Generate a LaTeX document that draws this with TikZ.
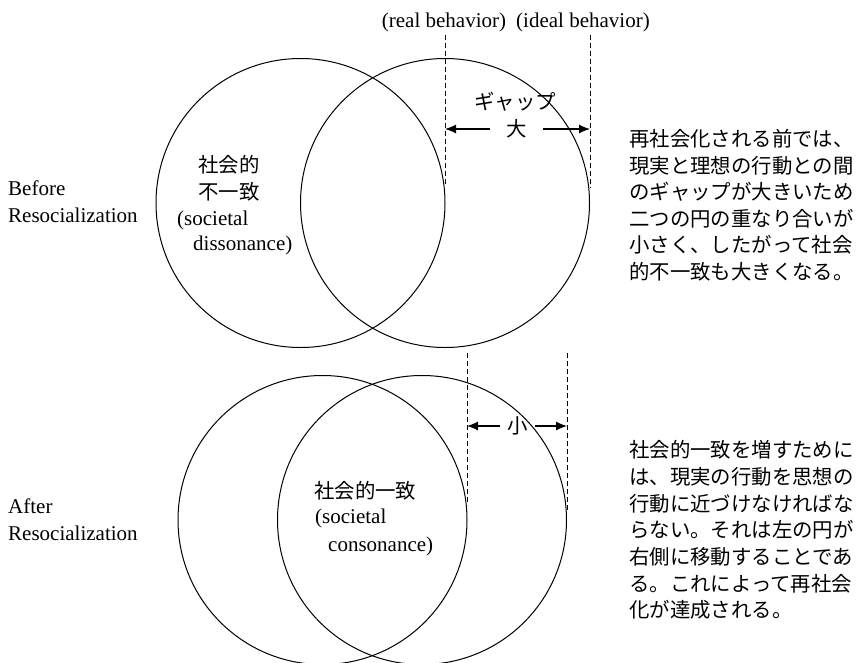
\documentclass[tikz,border=0pt]{standalone}
\usepackage{fontspec}
\setmainfont{Liberation Serif}
\newfontfamily\jp{Noto Sans CJK JP}
\usetikzlibrary{arrows.meta}
\begin{document}
\begin{tikzpicture}[x=1pt,y=-1pt,
  ring/.style={circle, draw, line width=1pt, minimum size=289pt, inner sep=0pt},
  guide/.style={dash pattern=on 5pt off 3pt, line width=0.9pt},
  gaparrow/.style={-{Latex[length=11pt,width=9pt]}, line width=1.1pt},
  lat/.style={font=\fontsize{21}{27}\selectfont, inner sep=0pt},
  jpt/.style={font=\jp\fontsize{20.4}{26.5}\selectfont, inner sep=0pt},
  para/.style={font=\jp\fontsize{20.4}{26.5}\selectfont, inner sep=0pt, align=left, anchor=west}]
\useasboundingbox (0,0) rectangle (865,662);

% circles
\node[ring] (bl) at (300.5,203) {};
\node[ring] (br) at (445,203) {};
\node[ring] (al) at (322.5,520) {};
\node[ring] (ar) at (422,520) {};

% top labels
\node[lat] (real) at (444,22) {(real behavior)};
\node[lat] (ideal) at (583,22) {(ideal behavior)};

% dashed guides
\coordinate (r1) at (445,35);
\coordinate (r2) at (445,186);
\coordinate (i1) at (590,35);
\coordinate (i2) at (590,188);
\draw[guide] (r1) -- (r2);
\draw[guide] (i1) -- (i2);
\coordinate (r3) at (467,353);
\coordinate (r4) at (467,505);
\coordinate (i3) at (567,353);
\coordinate (i4) at (567,510);
\draw[guide] (r3) -- (r4);
\draw[guide] (i3) -- (i4);

% gap labels and arrows
\node[jpt] (gap) at (515,102) {ギャップ};
\node[jpt, minimum width=53pt] (big) at (516.5,129) {大};
\coordinate (bigL) at (445,129);
\coordinate (bigR) at (590,129);
\draw[gaparrow] (big.west) -- (bigL);
\draw[gaparrow] (big.east) -- (bigR);

\node[jpt, minimum width=35pt] (small) at (517.5,426) {小};
\coordinate (smL) at (467,426);
\coordinate (smR) at (567,426);
\draw[gaparrow] (small.west) -- (smL);
\draw[gaparrow] (small.east) -- (smR);

% labels inside circles
\node[jpt] (s1) at (229,165) {社会的};
\node[jpt] (s2) at (229,192) {不一致};
\node[lat, anchor=west] (s3) at (177,220) {(societal};
\node[lat, anchor=west] (s4) at (193,245) {dissonance)};

\node[jpt, anchor=west] (c1) at (314,491) {社会的一致};
\node[lat, anchor=west] (c2) at (315,518) {(societal};
\node[lat, anchor=west] (c3) at (328,546) {consonance)};

% left labels
\node[lat, anchor=west] (b1) at (8,188) {Before};
\node[lat, anchor=west] (b2) at (8,215) {Resocialization};
\node[lat, anchor=west] (a1) at (8,506) {After};
\node[lat, anchor=west] (a2) at (8,533) {Resocialization};

% right paragraphs
\node[para] (p1) at (629,205) {再社会化される前では、\\現実と理想の行動との間\\のギャップが大きいため\\二つの円の重なり合いが\\小さく、したがって社会\\的不一致も大きくなる。};
\node[para, font=\jp\fontsize{20.4}{26.7}\selectfont] (p2) at (629,530) {社会的一致を増すために\\は、現実の行動を思想の\\行動に近づけなければな\\らない。それは左の円が\\右側に移動することであ\\る。これによって再社会\\化が達成される。};
\end{tikzpicture}
\end{document}
